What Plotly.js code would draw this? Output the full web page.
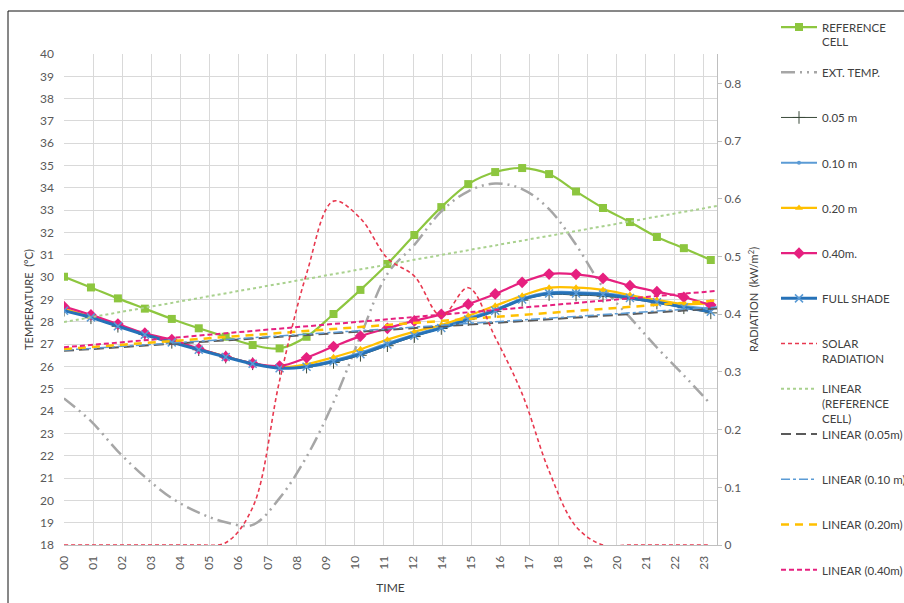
<!DOCTYPE html>
<html><head><meta charset="utf-8">
<script src="https://cdn.plot.ly/plotly-3.0.1.min.js"></script>
<style>
html,body{margin:0;padding:0;overflow:hidden;background:#fff;width:904px;height:603px}
#chart{width:960px;height:603px}
</style>
</head><body><div id="chart"></div>
<script>
// ---- data ----
const hours = [0,1,2,3,4,5,6,7,8,9,10,11,12,13,14,15,16,17,18,19,20,21,22,23,24];
const timeLabels = ['00','01','02','03','04','05','06','07','08','09','10','11','12','14','15','16','17','18','19','20','21','22','23'];
const referenceCell = [30.02,29.54,29.05,28.59,28.13,27.71,27.33,26.96,26.81,27.33,28.35,29.43,30.59,31.89,33.14,34.17,34.71,34.89,34.62,33.84,33.10,32.47,31.80,31.30,30.77];
const extTemp = [24.57,23.55,22.20,21.05,20.10,19.45,19.02,18.90,20.10,21.95,24.40,27.35,30.15,31.45,32.95,33.85,34.20,33.95,33.05,31.45,29.55,28.20,26.85,25.60,24.30];
const shade005 = [28.52,28.18,27.80,27.43,27.08,26.75,26.42,26.12,25.92,25.97,26.18,26.50,26.93,27.34,27.70,28.10,28.47,28.97,29.22,29.20,29.15,29.02,28.84,28.63,28.40];
const shade010 = [28.55,28.22,27.83,27.45,27.10,26.78,26.44,26.14,25.95,26.03,26.28,26.62,27.04,27.43,27.78,28.18,28.55,29.05,29.32,29.33,29.28,29.15,28.95,28.72,28.58];
const shade020 = [28.58,28.22,27.83,27.46,27.12,26.78,26.45,26.14,25.97,26.10,26.41,26.77,27.20,27.56,27.86,28.27,28.72,29.17,29.53,29.53,29.43,29.20,28.98,28.80,28.84];
const shade040 = [28.68,28.31,27.90,27.49,27.20,26.80,26.44,26.14,26.02,26.39,26.89,27.36,27.71,28.04,28.34,28.79,29.25,29.77,30.14,30.13,29.95,29.62,29.35,29.10,28.75];
const fullShade = [28.50,28.20,27.80,27.42,27.08,26.75,26.42,26.12,25.92,25.99,26.22,26.55,26.98,27.38,27.72,28.10,28.50,29.00,29.27,29.27,29.22,29.07,28.88,28.65,28.45];
const solarRadiation = [0,0,0,0,0,0,0.004,0.065,0.285,0.470,0.596,0.566,0.497,0.466,0.397,0.446,0.360,0.262,0.128,0.032,0,0,0,0,0];
const trendHours = [0, 24.23];
const trendReference = [27.99, 33.19];
const trend005 = [26.70, 28.60];
const trend010 = [26.73, 28.66];
const trend020 = [26.78, 28.96];
const trend040 = [26.86, 29.39];
const legendNames = ['REFERENCE<br>CELL','EXT. TEMP.','0.05 m','0.10 m','0.20 m','0.40m.','FULL SHADE','SOLAR<br>RADIATION','LINEAR<br>(REFERENCE<br>CELL)','LINEAR (0.05m)','LINEAR (0.10 m)','LINEAR (0.20m)','LINEAR (0.40m)'];

// ---- styling ----
const GREEN = '#8DC63F', GRAY = '#A6A6A6', PINK = '#E6207F', GOLD = '#FFC000',
      LBLUE = '#5B9BD5', DBLUE = '#2672B8', RED = '#E8384F', DARK = '#3A4A3A';

function legendRef(i){ return i === 0 ? 'legend' : 'legend' + (i + 1); }

const traces = [
  {x: hours, y: referenceCell, line: {color: GREEN, width: 2.2, shape: 'spline'},
   marker: {symbol: 'square', size: 8, color: GREEN}, mode: 'lines+markers'},
  {x: hours, y: extTemp, line: {color: GRAY, width: 2.5, shape: 'spline', dash: '14px,5px,2px,5px,2px,5px'}, mode: 'lines'},
  {x: hours, y: shade005, line: {color: DARK, width: 1, shape: 'spline'},
   marker: {symbol: 'cross-thin', size: 9, line: {width: 1, color: DARK}}, mode: 'lines+markers'},
  {x: hours, y: shade010, line: {color: LBLUE, width: 2, shape: 'spline'},
   marker: {symbol: 'circle', size: 4, color: LBLUE}, mode: 'lines+markers'},
  {x: hours, y: shade020, line: {color: GOLD, width: 2.2, shape: 'spline'},
   marker: {symbol: 'triangle-up', size: 7, color: GOLD}, mode: 'lines+markers'},
  {x: hours, y: shade040, line: {color: PINK, width: 2.2, shape: 'spline'},
   marker: {symbol: 'diamond', size: 9, color: PINK}, mode: 'lines+markers'},
  {x: hours, y: fullShade, line: {color: DBLUE, width: 3, shape: 'spline'},
   marker: {symbol: 'x-thin', size: 8, line: {width: 1.5, color: LBLUE}}, mode: 'lines+markers'},
  {x: hours, y: solarRadiation, yaxis: 'y2', line: {color: RED, width: 1.6, shape: 'spline', dash: '4px,3px'}, mode: 'lines'},
  {x: trendHours, y: trendReference, line: {color: '#A9D18E', width: 2, dash: 'dot'}, mode: 'lines'},
  {x: trendHours, y: trend005, line: {color: '#5A5A5A', width: 2, dash: '10px,5px'}, mode: 'lines'},
  {x: trendHours, y: trend010, line: {color: LBLUE, width: 1.5, dash: 'dashdot'}, mode: 'lines'},
  {x: trendHours, y: trend020, line: {color: GOLD, width: 2.5, dash: '8px,6px'}, mode: 'lines'},
  {x: trendHours, y: trend040, line: {color: PINK, width: 2, dash: '5px,3px'}, mode: 'lines'}
];
traces.forEach((t, i) => {
  t.type = 'scatter';
  t.name = legendNames[i];
  t.legend = legendRef(i);
  t.hoverinfo = 'skip';
});

// ---- layout ----
const plotL = 64, plotR = 717, plotT = 54, plotB = 545;
const plotW = plotR - plotL, plotH = plotB - plotT;
const xEnd = 24.23;
const tickStep = 29.09 / (plotW / xEnd);   // category tick pitch in hour units
const tickPositions = timeLabels.map((_, j) => j * tickStep);

const layout = {
  width: 960, height: 603,
  margin: {l: plotL, r: 960 - plotR, t: plotT, b: 603 - plotB, autoexpand: false},
  paper_bgcolor: '#ffffff', plot_bgcolor: '#ffffff',
  font: {family: 'Lato, "Open Sans", sans-serif', color: '#595959', size: 12},
  xaxis: {
    range: [0, xEnd], tickvals: tickPositions, ticktext: timeLabels, tickangle: -90,
    showgrid: true, gridcolor: '#D9D9D9', gridwidth: 1, zeroline: false,
    showline: true, linecolor: '#BFBFBF', linewidth: 1, ticks: '', ticklabelstandoff: 5,
    tickfont: {size: 12, color: '#595959'},
    title: {text: 'TIME', font: {size: 12, color: '#404040'}, standoff: 14}
  },
  yaxis: {
    range: [18, 40], dtick: 1, tick0: 18, showgrid: true, gridcolor: '#D9D9D9', zeroline: false,
    showline: false, ticks: '', ticklabelstandoff: 9, tickfont: {size: 12, color: '#595959'},
    title: {text: 'TEMPERATURE  (°C)', font: {size: 11, color: '#404040'}, standoff: 4}
  },
  yaxis2: {
    overlaying: 'y', side: 'right', range: [0, 0.851],
    tickvals: [0,0.1,0.2,0.3,0.4,0.5,0.6,0.7,0.8], ticktext: ['0','0.1','0.2','0.3','0.4','0.5','0.6','0.7','0.8'],
    showgrid: false, zeroline: false, showline: true, linecolor: '#BFBFBF', linewidth: 1,
    ticks: 'outside', ticklen: 4, tickcolor: '#BFBFBF', tickfont: {size: 12, color: '#595959'},
    title: {text: 'RADIATION  (kW/m<sup>2</sup>)', font: {size: 11, color: '#404040'}, standoff: 10}
  },
  showlegend: true,
  shapes: [
    {type: 'line', xref: 'paper', yref: 'paper', x0: (8 - plotL) / plotW, x1: 2,
     y0: (plotB - 11) / plotH, y1: (plotB - 11) / plotH, line: {color: '#111', width: 1}},
    {type: 'line', xref: 'paper', yref: 'paper', x0: (8 - plotL) / plotW, x1: (8 - plotL) / plotW,
     y0: (plotB - 11) / plotH, y1: -0.3, line: {color: '#111', width: 1}}
  ]
};

// one legend box per entry, placed on a fixed pitch like the original
const legendFirst = 26.7, legendPitch = 45.22, legendLeft = 776;
legendNames.forEach((_, i) => {
  const symY = legendFirst + i * legendPitch;
  const top = symY - 13.65;
  layout[legendRef(i)] = {
    x: (legendLeft - plotL) / plotW, xanchor: 'left',
    y: (plotB - top) / plotH, yanchor: 'top',
    valign: 'top', itemwidth: 36, bgcolor: 'rgba(0,0,0,0)', borderwidth: 0,
    font: {size: 11.5, color: '#404040', family: 'Lato, "Open Sans", sans-serif'}
  };
});

Plotly.newPlot('chart', traces, layout, {staticPlot: true, displayModeBar: false});
</script>
</body></html>
